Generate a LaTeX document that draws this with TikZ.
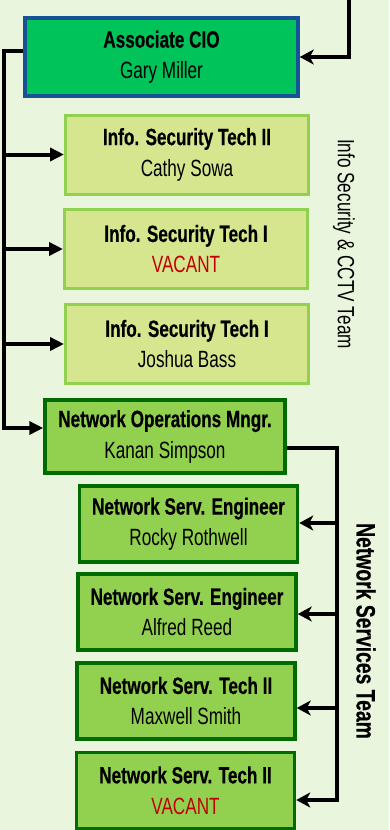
\documentclass[tikz,border=0pt]{standalone}
\usepackage{fontspec}
\setmainfont{Liberation Sans}[FakeStretch=0.73, BoldFeatures={FakeBold=0.4}]
\usepackage{xcolor}
\usepackage{tikz}
\usetikzlibrary{%
   arrows.meta,%
   calc,%
   positioning}
\definecolor{bggreen}{RGB}{233,245,220}
\definecolor{ciofill}{RGB}{0,196,90}
\definecolor{cioline}{RGB}{22,82,150}
\definecolor{secfill}{RGB}{214,230,142}
\definecolor{secline}{RGB}{146,208,80}
\definecolor{netfill}{RGB}{146,208,80}
\definecolor{netline}{RGB}{0,108,0}
\definecolor{vacred}{RGB}{192,0,0}
\newcommand{\vacant}{\textcolor{vacred}{VACANT}}

\begin{document}
\begin{tikzpicture}
[x=1pt, y=-1pt,
 font=\fontsize{23.5}{31}\selectfont,
 box/.style={draw, rectangle, line width=3.5pt, align=center, inner sep=0pt},
 ciobox/.style={box, draw=cioline, fill=ciofill, minimum width=273pt, minimum height=78pt},
 secbox/.style={box, line width=3pt, draw=secline, fill=secfill, minimum width=243pt, minimum height=79pt},
 netbox/.style={box, draw=netline, fill=netfill, minimum width=218pt, minimum height=76pt},
 pfeil/.style={-{Triangle[length=14pt, width=13pt]}, line width=4pt},
 pfeil2/.style={-{Stealth[length=14pt, width=15pt, inset=4pt]}, line width=4pt}]
\fill[bggreen] (0,0) rectangle (389,830);
\useasboundingbox (0,0) rectangle (389,830);
\node (associo) [ciobox] at (161.5,57) {\textbf{Associate CIO}\\ Gary Miller};
\node (infsec2) [secbox] at (187,154.5) {\textbf{Info. Security Tech II}\\ Cathy Sowa};
\node (infsec1) [secbox] at (186,249) {\textbf{Info. Security Tech I}\\ \vacant};
\node (infsec3) [secbox] at (187,344) {\textbf{Info. Security Tech I}\\ Joshua Bass};
\node (netopsm) [netbox, minimum width=240pt, minimum height=73pt] at (165,436.5) {\textbf{Network Operations Mngr.}\\ Kanan Simpson};
\node (netsen1) [netbox] at (188.5,524) {\textbf{Network Serv. Engineer}\\ Rocky Rothwell};
\node (netsen2) [netbox] at (187,612) {\textbf{Network Serv. Engineer}\\ Alfred Reed};
\node (netstc1) [netbox] at (186,701) {\textbf{Network Serv. Tech II}\\ Maxwell Smith};
\node (netstc2) [netbox] at (185.5,790.5) {\textbf{Network Serv. Tech II}\\ \vacant};
\node (secteam) [rotate=-90] at (344,244) {Info Security \& CCTV Team};
\node (netteam) [rotate=-90, font=\fontsize{26.5}{30}\selectfont\bfseries] at (366,631) {Network Services Team};
% bus coordinates
\coordinate (topin) at (349,-3);
\coordinate (ltop) at (4,51);
\coordinate (lbot) at (4,428);
\coordinate (rtop) at (337,448);
\coordinate (rbot) at (337,800);
\coordinate (r1) at (337,523);
\coordinate (r2) at (337,614);
\coordinate (r3) at (337,708);
\draw[pfeil2] (topin) |- (associo.east);
\draw[pfeil] ($(associo.west)+(0,-6)$) -- (ltop) -- (lbot) -- (lbot -| netopsm.west);
\foreach \n in {infsec2, infsec1, infsec3}
  \draw[pfeil] (ltop |- \n.west) -- (\n.west);
\draw[pfeil2] (netopsm.east |- rtop) -- (rtop) -- (rbot) -- (rbot -| netstc2.east);
\draw[pfeil2] (r1) -- (r1 -| netsen1.east);
\draw[pfeil2] (r2) -- (r2 -| netsen2.east);
\draw[pfeil2] (r3) -- (r3 -| netstc1.east);
\end{tikzpicture}
\end{document}
